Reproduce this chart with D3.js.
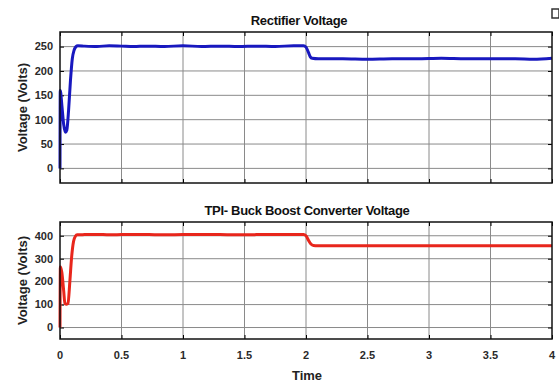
<!DOCTYPE html>
<html>
<head>
<meta charset="utf-8">
<script src="https://cdn.jsdelivr.net/npm/d3@7"></script>
<style>
  body { margin: 0; background: #fff; }
  text { font-family: "Liberation Sans", Arial, sans-serif; }
</style>
</head>
<body>
<div id="chart"></div>
<script>
// Data
var xTicks = [0, 0.5, 1, 1.5, 2, 2.5, 3, 3.5, 4];
var rectTicks = [0, 50, 100, 150, 200, 250];
var convTicks = [0, 100, 200, 300, 400];

var rectT = [0, 0.002, 0.015, 0.03, 0.045, 0.055, 0.07, 0.085, 0.1, 0.115, 0.13, 0.145, 0.2, 0.3, 0.4, 0.5, 0.6, 0.7, 0.85, 1.0, 1.15, 1.3, 1.45, 1.6, 1.75, 1.9, 1.98, 2.0, 2.02, 2.035, 2.05, 2.1, 2.3, 2.5, 2.7, 2.9, 3.1, 3.3, 3.5, 3.7, 3.85, 4.0];
var rectV = [0, 160, 130, 90, 74, 78, 120, 180, 225, 243, 250, 252, 251, 250, 252, 251, 250, 251, 250, 252, 250, 251, 250, 251, 250, 252, 252, 249, 238, 229, 226, 225, 225, 224, 225, 225, 226, 225, 225, 225, 224, 226];

var convT = [0, 0.003, 0.015, 0.03, 0.04, 0.055, 0.065, 0.08, 0.095, 0.11, 0.125, 0.14, 0.2, 0.3, 0.4, 0.5, 0.65, 0.8, 1.0, 1.2, 1.4, 1.6, 1.8, 1.98, 2.0, 2.02, 2.04, 2.06, 2.1, 2.3, 2.5, 2.7, 2.9, 3.1, 3.3, 3.5, 3.7, 3.9, 4.0];
var convV = [0, 265, 240, 160, 104, 102, 104, 200, 310, 375, 398, 404, 405, 406, 404, 405, 406, 404, 405, 406, 404, 405, 406, 405, 400, 380, 364, 358, 357, 356, 357, 356, 357, 356, 357, 356, 357, 356, 356];

var W = 559, H = 384;
var svg = d3.select('#chart').append('svg')
  .attr('width', W)
  .attr('height', H);

var xScale = d3.scaleLinear().domain([0, 4]).range([60, 552]);

function panel(opts) {
  var y = d3.scaleLinear().domain(opts.domain).range([opts.bottom, opts.top]);
  var g = svg.append('g');

  // grid
  g.selectAll('.vg').data(xTicks.slice(1, -1)).enter().append('line')
    .attr('x1', d => xScale(d)).attr('x2', d => xScale(d))
    .attr('y1', opts.top).attr('y2', opts.bottom)
    .attr('stroke', '#8a8a8a').attr('stroke-width', 1);
  g.selectAll('.hg').data(opts.ticks).enter().append('line')
    .attr('x1', 60).attr('x2', 552)
    .attr('y1', d => y(d)).attr('y2', d => y(d))
    .attr('stroke', '#8a8a8a').attr('stroke-width', 1);

  // inward ticks (MATLAB style)
  g.append('g').attr('transform', 'translate(0,' + opts.bottom + ')')
    .call(d3.axisTop(xScale).tickValues(xTicks).tickSize(4).tickFormat(''))
    .call(a => a.select('.domain').remove());
  g.append('g').attr('transform', 'translate(0,' + opts.top + ')')
    .call(d3.axisBottom(xScale).tickValues(xTicks).tickSize(4).tickFormat(''))
    .call(a => a.select('.domain').remove());
  g.append('g').attr('transform', 'translate(60,0)')
    .call(d3.axisRight(y).tickValues(opts.ticks).tickSize(4).tickFormat(''))
    .call(a => a.select('.domain').remove());
  g.append('g').attr('transform', 'translate(552,0)')
    .call(d3.axisLeft(y).tickValues(opts.ticks).tickSize(4).tickFormat(''))
    .call(a => a.select('.domain').remove());

  // y tick labels
  g.selectAll('.yl').data(opts.ticks).enter().append('text')
    .attr('x', 53).attr('y', d => y(d)).attr('dy', '0.35em')
    .attr('text-anchor', 'end')
    .attr('font-size', 11).attr('font-weight', 'bold').attr('fill', '#2a2a2a')
    .text(d => d);

  // line
  var line = d3.line()
    .x(d => xScale(d[0]))
    .y(d => y(d[1]))
    .curve(d3.curveMonotoneX);
  var pts = opts.t.map((t, i) => [t, opts.v[i]]);
  g.append('path').datum(pts)
    .attr('d', line)
    .attr('fill', 'none')
    .attr('stroke', opts.color)
    .attr('stroke-width', 3)
    .attr('stroke-linejoin', 'round');

  // frame
  g.append('rect')
    .attr('x', 60).attr('y', opts.top)
    .attr('width', 492).attr('height', opts.bottom - opts.top)
    .attr('fill', 'none').attr('stroke', '#111').attr('stroke-width', 1.5);

  // title
  g.append('text')
    .attr('x', opts.titleX).attr('y', opts.top - 7)
    .attr('text-anchor', 'middle')
    .attr('font-size', 13).attr('font-weight', 'bold')
    .attr('letter-spacing', '-0.3px').attr('fill', '#111')
    .text(opts.title);

  // y label
  g.append('text')
    .attr('transform', 'translate(22,' + ((opts.top + opts.bottom) / 2) + ') rotate(-90)')
    .attr('text-anchor', 'middle').attr('dy', '0.35em')
    .attr('font-size', 13).attr('font-weight', 'bold').attr('fill', '#222')
    .text('Voltage (Volts)');
  return y;
}

panel({
  top: 32, bottom: 183, domain: [-30, 280], ticks: rectTicks,
  t: rectT, v: rectV, color: '#1818bf',
  title: 'Rectifier Voltage', titleX: 299
});

panel({
  top: 222, bottom: 339, domain: [-50, 460], ticks: convTicks,
  t: convT, v: convV, color: '#e8261c',
  title: 'TPI- Buck Boost Converter Voltage', titleX: 307
});

// x tick labels
svg.selectAll('.xl').data(xTicks).enter().append('text')
  .attr('x', d => xScale(d)).attr('y', 355).attr('dy', '0.35em')
  .attr('text-anchor', 'middle')
  .attr('font-size', 11).attr('font-weight', 'bold').attr('fill', '#2a2a2a')
  .text(d => d);

svg.append('text')
  .attr('x', 307).attr('y', 375).attr('dy', '0.35em')
  .attr('text-anchor', 'middle')
  .attr('font-size', 13).attr('font-weight', 'bold').attr('fill', '#222')
  .text('Time');

// small window icon at top right corner
svg.append('rect')
  .attr('x', 552).attr('y', 9).attr('width', 7).attr('height', 9)
  .attr('fill', 'none').attr('stroke', '#333').attr('stroke-width', 1.5);
</script>
</body>
</html>
